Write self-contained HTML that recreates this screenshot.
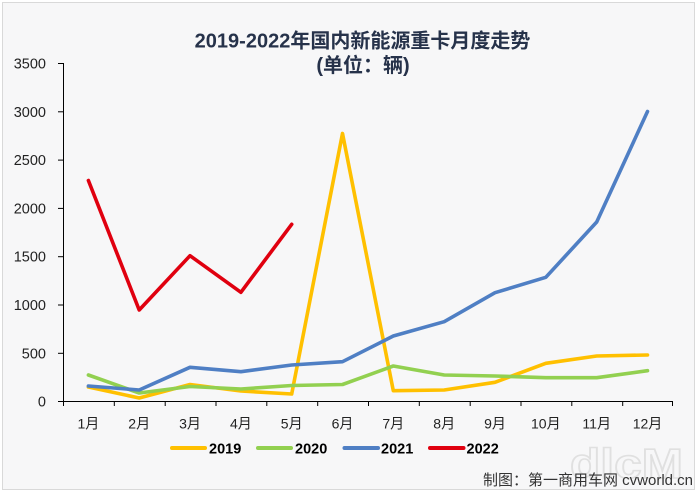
<!DOCTYPE html>
<html>
<head>
<meta charset="utf-8">
<style>
html,body{margin:0;padding:0;background:#ffffff;}
svg{display:block;}
</style>
</head>
<body>
<svg width="699" height="494" viewBox="0 0 699 494" xmlns="http://www.w3.org/2000/svg">
  <rect x="2.5" y="2.5" width="692" height="487" fill="#f7f7f8" stroke="#d9d9d9" stroke-width="1"/>

  <!-- Title -->
  <text x="362.5" y="47.5" text-anchor="middle" font-family="Liberation Sans, 'Noto Sans CJK SC', sans-serif" font-size="20" font-weight="bold" fill="#26324a">2019-2022年国内新能源重卡月度走势</text>
  <text x="363" y="72" text-anchor="middle" font-family="Liberation Sans, 'Noto Sans CJK SC', sans-serif" font-size="20" font-weight="bold" fill="#26324a">(单位：辆)</text>

  <!-- Axes -->
  <g stroke="#000" stroke-width="1" fill="none">
    <line x1="63.5" y1="63" x2="63.5" y2="401"/>
    <line x1="63" y1="401.5" x2="673" y2="401.5"/>
    <line x1="58" y1="63.5" x2="63" y2="63.5"/>
    <line x1="58" y1="111.8" x2="63" y2="111.8"/>
    <line x1="58" y1="160.1" x2="63" y2="160.1"/>
    <line x1="58" y1="208.4" x2="63" y2="208.4"/>
    <line x1="58" y1="256.7" x2="63" y2="256.7"/>
    <line x1="58" y1="305" x2="63" y2="305"/>
    <line x1="58" y1="353.3" x2="63" y2="353.3"/>
    <line x1="58" y1="401.5" x2="63" y2="401.5"/>
    <line x1="63.5" y1="401" x2="63.5" y2="406"/>
    <line x1="114.3" y1="401" x2="114.3" y2="406"/>
    <line x1="165.2" y1="401" x2="165.2" y2="406"/>
    <line x1="216" y1="401" x2="216" y2="406"/>
    <line x1="266.8" y1="401" x2="266.8" y2="406"/>
    <line x1="317.7" y1="401" x2="317.7" y2="406"/>
    <line x1="368.5" y1="401" x2="368.5" y2="406"/>
    <line x1="419.3" y1="401" x2="419.3" y2="406"/>
    <line x1="470.2" y1="401" x2="470.2" y2="406"/>
    <line x1="521" y1="401" x2="521" y2="406"/>
    <line x1="571.8" y1="401" x2="571.8" y2="406"/>
    <line x1="622.7" y1="401" x2="622.7" y2="406"/>
    <line x1="672.5" y1="401" x2="672.5" y2="406"/>
  </g>

  <!-- Y labels -->
  <g font-family="Liberation Sans, sans-serif" font-size="14.5" fill="#222" text-anchor="end">
    <text x="46" y="68.5">3500</text>
    <text x="46" y="116.8">3000</text>
    <text x="46" y="165.1">2500</text>
    <text x="46" y="213.4">2000</text>
    <text x="46" y="261.7">1500</text>
    <text x="46" y="310">1000</text>
    <text x="46" y="358.3">500</text>
    <text x="46" y="406.5">0</text>
  </g>

  <!-- X labels -->
  <g font-family="Liberation Sans, 'Noto Sans CJK SC', sans-serif" font-size="14" fill="#222" text-anchor="middle">
    <text x="88.4" y="428.5">1月</text>
    <text x="139.2" y="428.5">2月</text>
    <text x="190" y="428.5">3月</text>
    <text x="240.9" y="428.5">4月</text>
    <text x="291.7" y="428.5">5月</text>
    <text x="342.5" y="428.5">6月</text>
    <text x="393.3" y="428.5">7月</text>
    <text x="444.2" y="428.5">8月</text>
    <text x="495" y="428.5">9月</text>
    <text x="545.8" y="428.5">10月</text>
    <text x="596.7" y="428.5">11月</text>
    <text x="647.5" y="428.5">12月</text>
  </g>

  <!-- Watermark -->
  <text x="570" y="478" font-family="Liberation Sans, sans-serif" font-size="42" font-weight="bold" fill="none" stroke="#e0e0e0" stroke-width="1.6" textLength="113" lengthAdjust="spacingAndGlyphs">dlcM</text>

  <!-- Series -->
  <g fill="none" stroke-width="3.6" stroke-linejoin="round" stroke-linecap="round">
    <polyline stroke="#FFC000" points="88.4,387 139.2,398 190,384.5 240.9,391 291.7,394 342.5,133.5 393.3,390.7 444.2,390 495,382.3 545.8,363.3 596.7,356 647.5,355"/>
    <polyline stroke="#92D050" points="88.4,375 139.2,393 190,386.5 240.9,389 291.7,385.5 342.5,384.5 393.3,366 444.2,375 495,376 545.8,377.7 596.7,377.7 647.5,370.7"/>
    <polyline stroke="#4F7FC4" points="88.4,386 139.2,390 190,367.3 240.9,371.7 291.7,365 342.5,361.7 393.3,336 444.2,321.7 495,292.7 545.8,277.3 596.7,222 647.5,111.5"/>
    <polyline stroke="#E0000F" points="88.4,180.5 139.2,310 190,255.7 240.9,292.3 291.7,224.3"/>
  </g>

  <!-- Legend -->
  <g stroke-width="4" stroke-linecap="round">
    <line x1="172" y1="448" x2="205" y2="448" stroke="#FFC000"/>
    <line x1="258" y1="448" x2="291" y2="448" stroke="#92D050"/>
    <line x1="344.5" y1="448" x2="378" y2="448" stroke="#4F7FC4"/>
    <line x1="430" y1="448" x2="463.5" y2="448" stroke="#E0000F"/>
  </g>
  <g font-family="Liberation Sans, sans-serif" font-size="14.5" font-weight="bold" fill="#000">
    <text x="209" y="453.5">2019</text>
    <text x="295" y="453.5">2020</text>
    <text x="381" y="453.5">2021</text>
    <text x="466.5" y="453.5">2022</text>
  </g>

  <!-- Footer -->
  <text x="483" y="485" font-family="Liberation Sans, 'Noto Sans CJK SC', sans-serif" font-size="15" fill="#333">制图：第一商用车网 cvworld.cn</text>
</svg>
</body>
</html>
